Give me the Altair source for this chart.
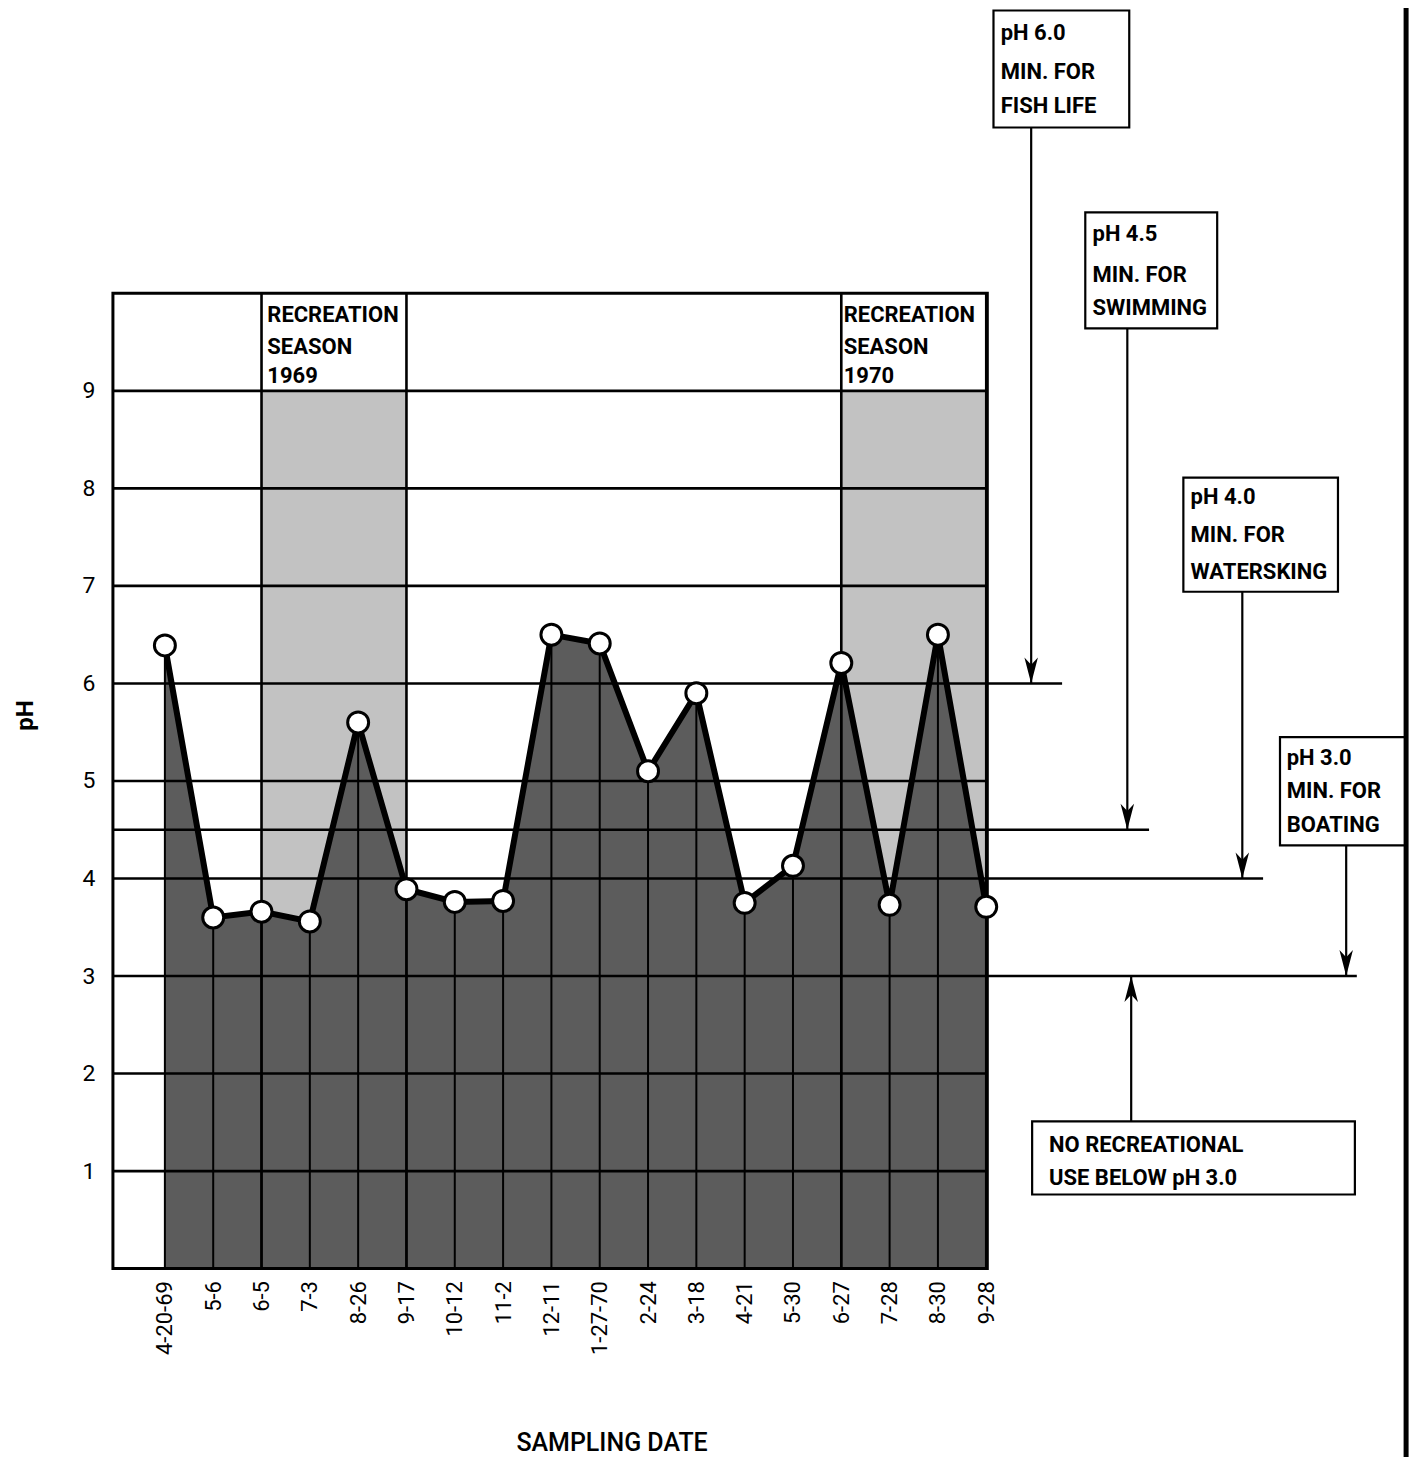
import altair as alt
import pandas as pd

# ---------------- data ----------------
dates = ["4-20-69", "5-6", "6-5", "7-3", "8-26", "9-17", "10-12", "11-2", "12-11",
         "1-27-70", "2-24", "3-18", "4-21", "5-30", "6-27", "7-28", "8-30", "9-28"]
ph = [6.39, 3.60, 3.66, 3.56, 5.60, 3.89, 3.76, 3.77, 6.50,
      6.41, 5.10, 5.90, 3.75, 4.13, 6.21, 3.73, 6.50, 3.71]
grid_levels = [1, 2, 3, 4, 4.5, 5, 6, 7, 8, 9]
y_ticks = [1, 2, 3, 4, 5, 6, 7, 8, 9]
season_start = ["6-5", "6-27"]
season_end = ["9-17", "9-28"]
season_year = ["1969", "1970"]
season_top = 9
season_words = ["RECREATION", "SEASON"]
criteria_ph = [6.0, 4.5, 4.0, 3.0]
criteria_text = [["pH  6.0", "MIN. FOR", "FISH LIFE"],
                 ["pH  4.5", "MIN. FOR", "SWIMMING"],
                 ["pH  4.0", "MIN. FOR", "WATERSKING"],
                 ["pH  3.0", "MIN. FOR", "BOATING"]]
floor_ph = 3.0
floor_text = ["NO RECREATIONAL", "USE BELOW pH 3.0"]

# ---------------- layout (in scale units: x = sample index, y = pH) ----------------
X_LO, X_HI = -1.0755, 17.022
Y_LO, Y_HI = 0, 10
crit_line_end = [18.57, 20.37, 22.73, 24.67]
crit_box = [(17.15, 19.96, 11.70, 12.90),
            (19.05, 21.78, 9.64, 10.83),
            (21.08, 24.28, 6.94, 8.11),
            (23.08, 25.69, 4.34, 5.45)]
crit_text_x = [17.30, 19.20, 21.23, 23.22]
crit_text_y = [[12.67, 12.27, 11.92], [10.61, 10.19, 9.85],
               [7.91, 7.52, 7.14], [5.24, 4.90, 4.55]]
crit_arrow_x = [17.93, 19.92, 22.30, 24.45]
floor_box = (17.95, 24.63, 0.76, 1.51)
floor_text_x = 18.30
floor_text_y = [1.27, 0.93]
floor_arrow_x = 20.0
season_label_dx = [0.12, 0.05]
season_label_y = [9.78, 9.45, 9.15]
border_x = 25.69
border_y = (-1.95, 12.95)

FONT = "Roboto, Liberation Sans, sans-serif"
LIGHT = "#c2c2c2"
DARK = "#5c5c5c"

xs = alt.Scale(domain=[X_LO, X_HI], nice=False, zero=False)
ys = alt.Scale(domain=[Y_LO, Y_HI], nice=False, zero=False)

label_expr = "[" + ",".join("'%s'" % d for d in dates) + "][datum.value]"

XAXIS = alt.Axis(values=list(range(len(dates))), labelExpr=label_expr,
                 labelAngle=270, labelAlign="right", labelBaseline="middle",
                 labelPadding=12, labelFontSize=22, labelFont=FONT,
                 labelColor="black", labelOverlap=False, labelFlush=False,
                 ticks=False, domain=False, grid=False,
                 title="SAMPLING DATE", titleFont=FONT, titleFontSize=25,
                 titleFontWeight=500, titleColor="black",
                 titleX=499, titleY=174, titleAlign="center",
                 titleBaseline="middle", titleAnchor="start")
YAXIS = alt.Axis(values=y_ticks, labelPadding=18, labelFontSize=23,
                 labelFont=FONT, labelColor="black", ticks=False,
                 domain=False, grid=False,
                 title="pH", titleFont=FONT, titleFontSize=24,
                 titleFontWeight="bold", titleColor="black",
                 titleAngle=270, titleX=-87, titleY=422,
                 titleAlign="center", titleBaseline="middle",
                 titleAnchor="start")


def X(f, **kw):
    return alt.X(f, type="quantitative", scale=xs, axis=XAXIS, **kw)


def Y(f, **kw):
    return alt.Y(f, type="quantitative", scale=ys, axis=YAXIS, **kw)


idx = {d: i for i, d in enumerate(dates)}
df = pd.DataFrame({"i": list(range(len(dates))), "date": dates, "ph": ph, "zero": 0.0})

season_df = pd.DataFrame({
    "x0": [idx[s] for s in season_start],
    "x1": [idx[e] for e in season_end],
    "y0": 0.0, "y1": float(season_top),
})
season_border_df = pd.DataFrame({
    "x": [idx[s] for s in season_start] + [idx[e] for e in season_end],
    "y0": 0.0, "y1": float(Y_HI),
})
season_lbl = []
for k, s in enumerate(season_start):
    for j, t in enumerate(season_words + [season_year[k]]):
        season_lbl.append({"x": idx[s] + season_label_dx[k], "y": season_label_y[j], "t": t})
season_lbl_df = pd.DataFrame(season_lbl)

grid_df = pd.DataFrame({
    "lvl": grid_levels,
    "x0": X_LO,
    "x1": [crit_line_end[criteria_ph.index(l)] if l in criteria_ph else X_HI for l in grid_levels],
})

box_df = pd.DataFrame(
    [{"x0": b[0], "x1": b[1], "y0": b[2], "y1": b[3]} for b in crit_box]
    + [{"x0": floor_box[0], "x1": floor_box[1], "y0": floor_box[2], "y1": floor_box[3]}]
)
txt = []
for k, lines in enumerate(criteria_text):
    for j, t in enumerate(lines):
        txt.append({"x": crit_text_x[k], "y": crit_text_y[k][j], "t": t})
for j, t in enumerate(floor_text):
    txt.append({"x": floor_text_x, "y": floor_text_y[j], "t": t})
txt_df = pd.DataFrame(txt)

arrow_down_df = pd.DataFrame({
    "x": crit_arrow_x,
    "y0": [b[2] for b in crit_box],
    "y1": criteria_ph,
})
arrow_up_df = pd.DataFrame({"x": [floor_arrow_x], "y0": [floor_box[3]], "y1": [floor_ph]})
border_df = pd.DataFrame({"x": [border_x], "y0": [border_y[0]], "y1": [border_y[1]]})
frame_df = pd.DataFrame({"x0": [X_LO], "x1": [X_HI], "y0": [float(Y_LO)], "y1": [float(Y_HI)]})

# ---------------- layers ----------------
season_rect = alt.Chart(season_df).mark_rect(color=LIGHT).encode(
    x=X("x0"), x2="x1", y=Y("y0"), y2="y1")

area = alt.Chart(df).mark_area(color=DARK, opacity=1).encode(
    x=X("i"), y=Y("ph"), y2=alt.Y2("zero"))

vrules = alt.Chart(df).mark_rule(color="black", strokeWidth=2).encode(
    x=X("i"), y=Y("zero"), y2="ph")

hrules = alt.Chart(grid_df).mark_rule(color="black", strokeWidth=2.6).encode(
    x=X("x0"), x2="x1", y=Y("lvl"))

season_borders = alt.Chart(season_border_df).mark_rule(color="black", strokeWidth=2.6).encode(
    x=X("x"), y=Y("y0"), y2="y1")

frame = alt.Chart(frame_df).mark_rect(fillOpacity=0, stroke="black", strokeWidth=3).encode(
    x=X("x0"), x2="x1", y=Y("y0"), y2="y1")

line = alt.Chart(df).mark_line(color="black", strokeWidth=6).encode(
    x=X("i"), y=Y("ph"))

points = alt.Chart(df).mark_point(filled=True, fill="white", stroke="black",
                                  strokeWidth=3, size=440, opacity=1,
                                  fillOpacity=1, strokeOpacity=1).encode(
    x=X("i"), y=Y("ph"))

season_text = alt.Chart(season_lbl_df).mark_text(
    font=FONT, fontSize=22, fontWeight="bold", align="left", baseline="middle",
    color="black").encode(x=X("x"), y=Y("y"), text="t")

boxes = alt.Chart(box_df).mark_rect(fill="white", stroke="black", strokeWidth=2.2).encode(
    x=X("x0"), x2="x1", y=Y("y0"), y2="y1")

box_text = alt.Chart(txt_df).mark_text(
    font=FONT, fontSize=22, fontWeight="bold", align="left", baseline="middle",
    color="black").encode(x=X("x"), y=Y("y"), text="t")

arrow_down_shaft = alt.Chart(arrow_down_df).mark_rule(color="black", strokeWidth=2.2).encode(
    x=X("x"), y=Y("y0"), y2="y1")
arrow_down_head = alt.Chart(arrow_down_df).mark_point(
    shape="M0,0L-0.26,-1L0,-0.72L0.26,-1Z", size=2700, filled=True,
    color="black", opacity=1).encode(x=X("x"), y=Y("y1"))

arrow_up_shaft = alt.Chart(arrow_up_df).mark_rule(color="black", strokeWidth=2.2).encode(
    x=X("x"), y=Y("y0"), y2="y1")
arrow_up_head = alt.Chart(arrow_up_df).mark_point(
    shape="M0,0L-0.26,1L0,0.72L0.26,1Z", size=2700, filled=True,
    color="black", opacity=1).encode(x=X("x"), y=Y("y1"))

border = alt.Chart(border_df).mark_rule(color="black", strokeWidth=5).encode(
    x=X("x"), y=Y("y0"), y2="y1")

chart = alt.layer(
    season_rect, area, vrules, hrules, season_borders, frame,
    arrow_down_shaft, arrow_down_head, arrow_up_shaft, arrow_up_head,
    boxes, box_text, season_text, line, points, border,
).properties(
    width=875, height=976,
    autosize=alt.AutoSizeParams(type="none"),
    padding={"left": 105, "top": 285, "right": 424, "bottom": 188},
    background="white",
).configure_view(stroke=None)

chart.save("out.html", embed_options={"renderer": "svg", "actions": False})
